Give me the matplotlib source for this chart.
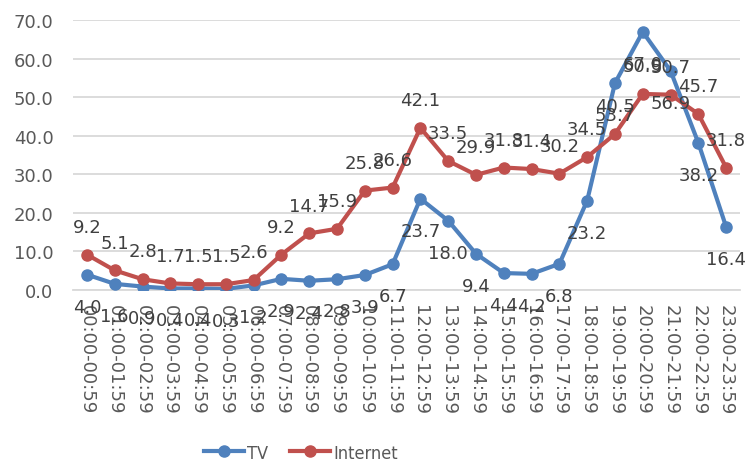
import matplotlib
matplotlib.use("Agg")
import matplotlib.pyplot as plt
from matplotlib.lines import Line2D
from matplotlib.font_manager import FontProperties

hours = ["00:00-00:59", "01:00-01:59", "02:00-02:59", "03:00-03:59", "04:00-04:59",
         "05:00-05:59", "06:00-06:59", "07:00-07:59", "08:00-08:59", "09:00-09:59",
         "10:00-10:59", "11:00-11:59", "12:00-12:59", "13:00-13:59", "14:00-14:59",
         "15:00-15:59", "16:00-16:59", "17:00-17:59", "18:00-18:59", "19:00-19:59",
         "20:00-20:59", "21:00-21:59", "22:00-22:59", "23:00-23:59"]
tv = [4.0, 1.6, 0.9, 0.4, 0.4, 0.3, 1.2, 2.9, 2.4, 2.8, 3.9, 6.7,
      23.7, 18.0, 9.4, 4.4, 4.2, 6.8, 23.2, 53.7, 67.0, 56.9, 38.2, 16.4]
internet = [9.2, 5.1, 2.8, 1.7, 1.5, 1.5, 2.6, 9.2, 14.7, 15.9, 25.8, 26.6,
            42.1, 33.5, 29.9, 31.8, 31.4, 30.2, 34.5, 40.5, 50.9, 50.7, 45.7, 31.8]
y_ticks = [0, 10, 20, 30, 40, 50, 60, 70]

TV_C = "#4F81BD"
NET_C = "#C0504D"
TXT = "#595959"
GRID = "#D9D9D9"

fig = plt.figure(figsize=(7.49, 4.64), dpi=100)
ax = fig.add_axes([0.0975, 0.3728, 0.8905, 0.5812])

x = list(range(len(hours)))
ax.plot(x, tv, color=TV_C, lw=3, marker="o", ms=8, zorder=3, label="TV")
ax.plot(x, internet, color=NET_C, lw=3, marker="o", ms=8, zorder=3, label="Internet")

for xi, v in zip(x, tv):
    ax.annotate(f"{v:.1f}", (xi, v), xytext=(0, -23), textcoords="offset points",
                ha="center", va="center", fontsize=13, color="#404040", zorder=4,
                annotation_clip=False)
for xi, v in zip(x, internet):
    ax.annotate(f"{v:.1f}", (xi, v), xytext=(0, 20), textcoords="offset points",
                ha="center", va="center", fontsize=13, color="#404040", zorder=4,
                annotation_clip=False)

ax.set_xlim(-0.5, len(hours) - 0.5)
ax.set_ylim(0, 70)
ax.set_yticks(y_ticks)
ax.set_yticklabels([f"{t:.1f}" for t in y_ticks])
ax.set_xticks(x)
ax.set_xticklabels(hours, rotation=-90, va="top", ha="center")
ax.tick_params(axis="both", length=0, labelsize=13, colors=TXT)
ax.tick_params(axis="x", pad=10)
ax.tick_params(axis="y", pad=14)

ax.grid(axis="y", color=GRID, lw=1.3, zorder=0)
ax.set_axisbelow(True)
for s in ["top", "right", "left"]:
    ax.spines[s].set_visible(False)
ax.spines["bottom"].set_color(GRID)
ax.spines["bottom"].set_linewidth(1.3)

handles = [Line2D([], [], color=TV_C, lw=3, marker="o", ms=8),
           Line2D([], [], color=NET_C, lw=3, marker="o", ms=8)]
leg_font = FontProperties(family="DejaVu Sans", stretch="condensed", size=13)
leg = fig.legend(handles, ["TV", "Internet"], loc="center", bbox_to_anchor=(0.402, 0.022),
                 ncol=2, frameon=False, handlelength=2.2, handletextpad=0.2,
                 columnspacing=1.2, prop=leg_font)
for t in leg.get_texts():
    t.set_color(TXT)

fig.savefig("out.png", dpi=100)
